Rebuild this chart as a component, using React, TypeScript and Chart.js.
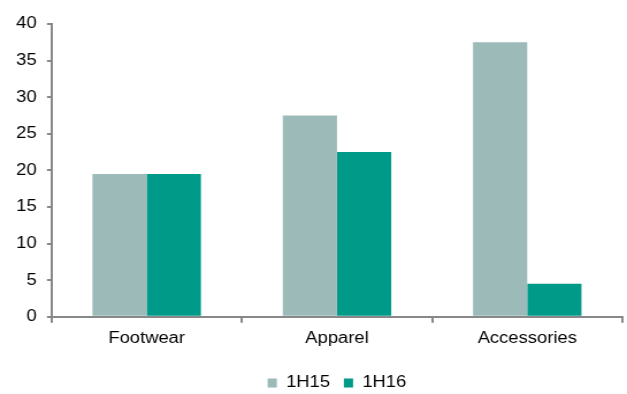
import React, { useEffect, useRef } from "react";
import { Chart, registerables } from "chart.js";

Chart.register(...registerables);

const categories = ["Footwear", "Apparel", "Accessories"];
const series1H15 = [19.5, 27.5, 37.5];
const series1H16 = [19.5, 22.5, 4.5];
const seriesNames = ["1H15", "1H16"];

const LOGICAL_W = 545;
const OUT_W = 627;
const OUT_H = 394;

export default function App() {
  const ref = useRef<HTMLCanvasElement | null>(null);
  useEffect(() => {
    if (!ref.current) return;
    const font = { family: "'Liberation Sans', Arial, sans-serif", size: 16 };
    const chart = new Chart(ref.current, {
      type: "bar",
      data: {
        labels: categories,
        datasets: [
          { label: seriesNames[0], data: series1H15, backgroundColor: "#9BBAB8", categoryPercentage: 0.57, barPercentage: 1 },
          { label: seriesNames[1], data: series1H16, backgroundColor: "#009A88", categoryPercentage: 0.57, barPercentage: 1 },
        ],
      },
      options: {
        animation: false,
        responsive: false,
        maintainAspectRatio: false,
        layout: { padding: { top: 24, right: 4, left: 5, bottom: -7 } },
        plugins: {
          tooltip: { enabled: false },
          legend: {
            position: "bottom",
            fullSize: false,
            labels: { boxWidth: 8, boxHeight: 9, font, color: "#000", padding: 12 },
          },
        },
        scales: {
          x: {
            grid: { offset: true, drawOnChartArea: false, color: "#888", tickLength: 6, lineWidth: 2 },
            border: { color: "#888", width: 2 },
            ticks: { font, color: "#000", padding: 6 },
            afterFit: (scale: any) => {
              scale.height += 9;
            },
          },
          y: {
            min: 0,
            max: 40,
            ticks: { stepSize: 5, font, color: "#000", padding: 9 },
            grid: { drawOnChartArea: false, color: "#888", tickLength: 4, lineWidth: 2 },
            border: { color: "#888", width: 2 },
          },
        },
      },
    });
    return () => chart.destroy();
  }, []);
  return (
    <div style={{ position: "absolute", left: 0, top: 0, width: OUT_W, height: OUT_H, overflow: "hidden", background: "#fff" }}>
      <div style={{ width: LOGICAL_W, height: OUT_H, transform: `scaleX(${OUT_W / LOGICAL_W})`, transformOrigin: "0 0" }}>
        <canvas ref={ref} width={LOGICAL_W} height={OUT_H} />
      </div>
    </div>
  );
}
